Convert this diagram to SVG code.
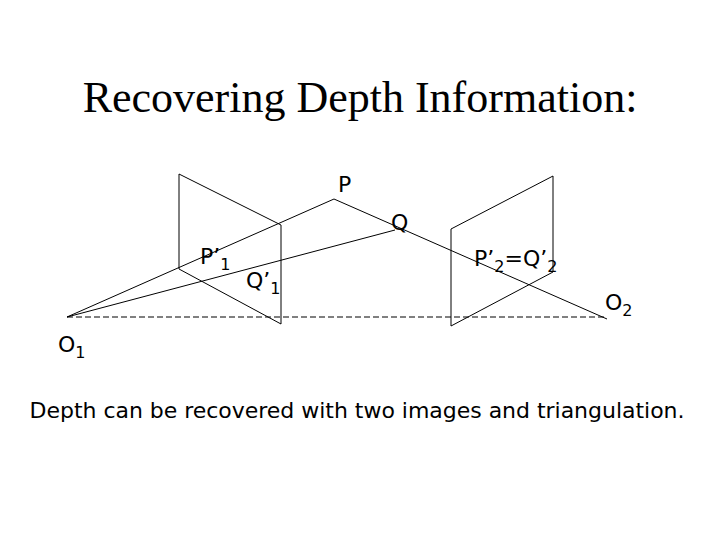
<svg xmlns="http://www.w3.org/2000/svg" width="720" height="540" viewBox="0 0 720 540">
<style>
.l{stroke:#000;stroke-width:1;fill:none}
.t{font-family:"DejaVu Sans",sans-serif;font-size:22px;fill:#000}
.s{font-size:16px}
</style>
<rect width="720" height="540" fill="#fff"/>
<text x="360" y="112" text-anchor="middle" font-family="Liberation Serif,serif" font-size="44">Recovering Depth Information:</text>
<g id="connectors">
<line class="l" x1="67" y1="317" x2="607" y2="317" stroke-dasharray="6,3"/>
<polyline class="l" points="67,317 334,199 607,319"/>
<line class="l" x1="67" y1="317" x2="395" y2="230"/>
</g>
<g id="plane1"><polygon class="l" points="179,174 281,225 281,324 179,269"/></g>
<g id="plane2"><polygon class="l" points="451,229 553,176 553,272 451,326"/></g>
<g id="labels">
<text class="t" x="338" y="192">P</text>
<text class="t" x="391" y="230">Q</text>
<text class="t" x="200" y="264">P’<tspan class="s" dy="6">1</tspan></text>
<text class="t" x="246" y="288">Q’<tspan class="s" dy="6">1</tspan></text>
<text class="t" x="474" y="266">P’<tspan class="s" dy="6">2</tspan><tspan dy="-6">=Q’</tspan><tspan class="s" dy="6">2</tspan></text>
<text class="t" x="605" y="310">O<tspan class="s" dy="6">2</tspan></text>
<text class="t" x="58" y="352">O<tspan class="s" dy="6">1</tspan></text>
<text class="t" x="357" y="418" text-anchor="middle" textLength="655">Depth can be recovered with two images and triangulation.</text>
</g>
</svg>
